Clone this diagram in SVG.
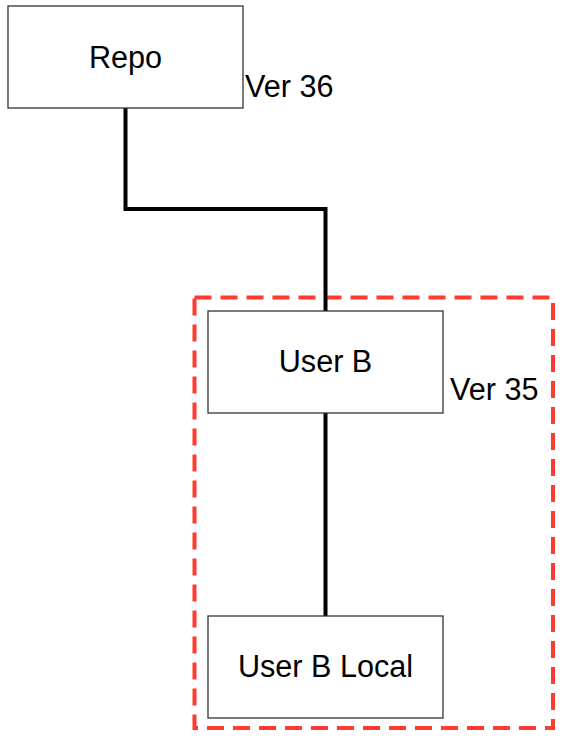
<svg xmlns="http://www.w3.org/2000/svg" width="567" height="740" viewBox="0 0 567 740">
<style>
.box{fill:#ffffff;stroke:#333333;stroke-width:1.3}
.lbl{font-family:"Liberation Sans",Arial,sans-serif;font-size:30.6px;fill:#000000}
.mid{text-anchor:middle}
.wire{fill:none;stroke:#000000;stroke-width:4}
.group{fill:none;stroke:#ff3b2f;stroke-width:4;stroke-dasharray:17 9}
</style>
<rect width="567" height="740" fill="#ffffff"/>
<rect class="group" x="194.5" y="297.5" width="358.5" height="430.5"/>
<g id="connectors">
<polyline class="wire" points="125.5,108 125.5,209 325.5,209 325.5,311"/>
<line class="wire" x1="325.5" y1="413" x2="325.5" y2="616" stroke-width="3.5"/>
</g>
<g id="repo">
<rect class="box" x="8" y="6" width="235" height="102"/>
<text class="lbl mid" x="125.5" y="68">Repo</text>
</g>
<text class="lbl" x="245" y="97">Ver 36</text>
<g id="userB">
<rect class="box" x="208" y="311" width="235" height="102"/>
<text class="lbl mid" x="325.5" y="372">User B</text>
</g>
<text class="lbl" x="450" y="400">Ver 35</text>
<g id="userBLocal">
<rect class="box" x="208" y="616" width="235" height="102"/>
<text class="lbl mid" x="325.5" y="677">User B Local</text>
</g>
</svg>
